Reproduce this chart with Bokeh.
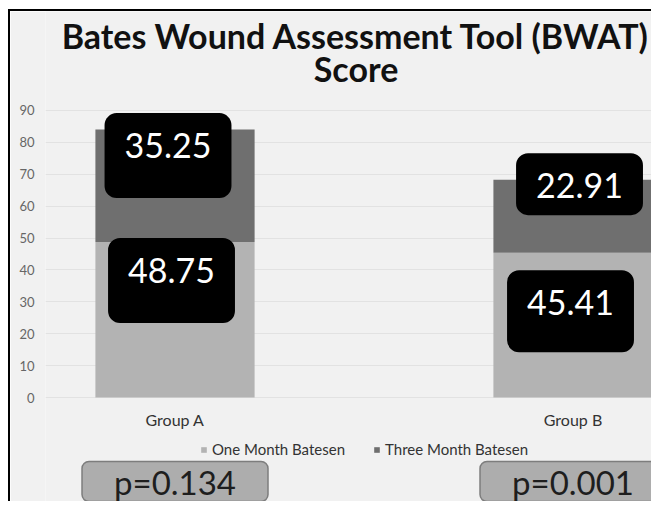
from bokeh.plotting import figure
from bokeh.models import (Label, Legend, LegendItem, FixedTicker,
                          ColumnDataSource, Range1d, Div, Spacer)
from bokeh.layouts import row, column
from bokeh.core.properties import value
from bokeh.embed import file_html
from bokeh.resources import INLINE

# ---- data ----
groups = ["Group A", "Group B"]
one_month = [48.75, 45.41]
three_month = [35.25, 22.91]
p_values = ["p=0.134", "p=0.001"]
y_ticks = [0, 10, 20, 30, 40, 50, 60, 70, 80, 90]
series_names = ["One Month Batesen", "Three Month Batesen"]
title_lines = ["Bates Wound Assessment Tool (BWAT)", "Score"]

# ---- derived ----
xpos = list(range(len(groups)))
totals = [a + b for a, b in zip(one_month, three_month)]

FONT = "Lato"
BG = "#f1f1f1"
LIGHT = "#b3b3b3"
DARK = "#6f6f6f"

W, H = 641, 490
p = figure(width=W, height=H, output_backend="svg", toolbar_location=None,
           x_range=Range1d(-0.3254, 1.1972), y_range=Range1d(-32.61, 121.04),
           min_border_left=35, min_border_right=0, min_border_top=0,
           min_border_bottom=0,
           background_fill_color=BG, border_fill_color=BG,
           outline_line_color=None, title=None)

src = ColumnDataSource(dict(x=xpos, one=one_month, tot=totals))
r1 = p.vbar(x="x", bottom=0, top="one", width=0.4, source=src,
            fill_color=LIGHT, line_color=None)
r2 = p.vbar(x="x", bottom="one", top="tot", width=0.4, source=src,
            fill_color=DARK, line_color=None)

# value label boxes (style offsets in px, not data)
label_style = [
    # (x_off, y_off, pad_bottom)
    [(-7, 26, 40), (6.5, 4.5, 17)],       # three month: group A, group B
    [(-3.5, 38.5, 40), (-2.5, 58.5, 37)],  # one month: group A, group B
]
for si, (tops, vals) in enumerate([(totals, three_month), (one_month, one_month)]):
    for gi in range(len(groups)):
        xo, yo, pb = label_style[si][gi]
        p.text(x=[xpos[gi]], y=[tops[gi]], text=["%.2f" % vals[gi]],
               x_offset=xo, y_offset=yo,
               text_font=value(FONT), text_font_size="34px",
               text_color="white", text_align="center",
               text_baseline="middle",
               background_fill_color="black", border_radius=12,
               padding=dict(left=20, right=20, top=20, bottom=pb))

# group labels under bars
p.text(x=xpos, y=[0] * len(xpos), text=groups, y_offset=22,
       text_font=value(FONT), text_font_size="16px", text_color="#333333",
       text_align="center", text_baseline="middle")

# p-value boxes
p.text(x=xpos, y=[0] * len(xpos), text=p_values, y_offset=84,
       text_font=value(FONT), text_font_size="33px", text_color="#1e1e1e",
       text_align="center", text_baseline="middle",
       background_fill_color="#adadad", border_line_color="#7d7d7d",
       border_line_width=1.5, border_radius=7,
       padding=dict(left=32, right=32, top=0, bottom=0))

# axes
p.yaxis.ticker = FixedTicker(ticks=y_ticks)
p.yaxis.axis_line_color = None
p.yaxis.major_tick_line_color = None
p.yaxis.minor_tick_line_color = None
p.yaxis.major_label_text_font = FONT
p.yaxis.major_label_text_font_size = "13px"
p.yaxis.major_label_text_color = "#666666"
p.yaxis.major_label_standoff = 5
p.xaxis.visible = False

p.xgrid.grid_line_color = None
p.ygrid.ticker = FixedTicker(ticks=y_ticks)
p.ygrid.grid_line_color = "#e2e2e2"

# title
for line, ty in zip(title_lines, [466, 433]):
    p.add_layout(Label(x=sum(xpos) / len(xpos), x_offset=-18, y=ty,
                       y_units="screen", text=line, text_font=FONT,
                       text_font_size="34px", text_font_style="bold",
                       text_color="#111111", text_align="center",
                       text_baseline="alphabetic"))

# legend
legend = Legend(items=[LegendItem(label=series_names[0], renderers=[r1]),
                       LegendItem(label=series_names[1], renderers=[r2])],
                orientation="horizontal", location=(155, 43),
                label_text_font=FONT, label_text_font_size="15px",
                label_text_color="#333333", glyph_width=7, glyph_height=7,
                label_height=16, label_standoff=5, spacing=28,
                border_line_color=None, background_fill_alpha=0,
                margin=0, padding=0)
p.add_layout(legend, "center")

top_line = Div(width=W + 2, height=2, margin=0,
               styles={"background-color": "black"})
left_line = Div(width=2, height=H, margin=0,
                styles={"background-color": "black"})
layout = row(Spacer(width=8, margin=0),
             column(Spacer(height=9, margin=0), top_line,
                    row(left_line, p, margin=0), margin=0),
             margin=0)

open("out.html", "w").write(file_html(layout, INLINE))
